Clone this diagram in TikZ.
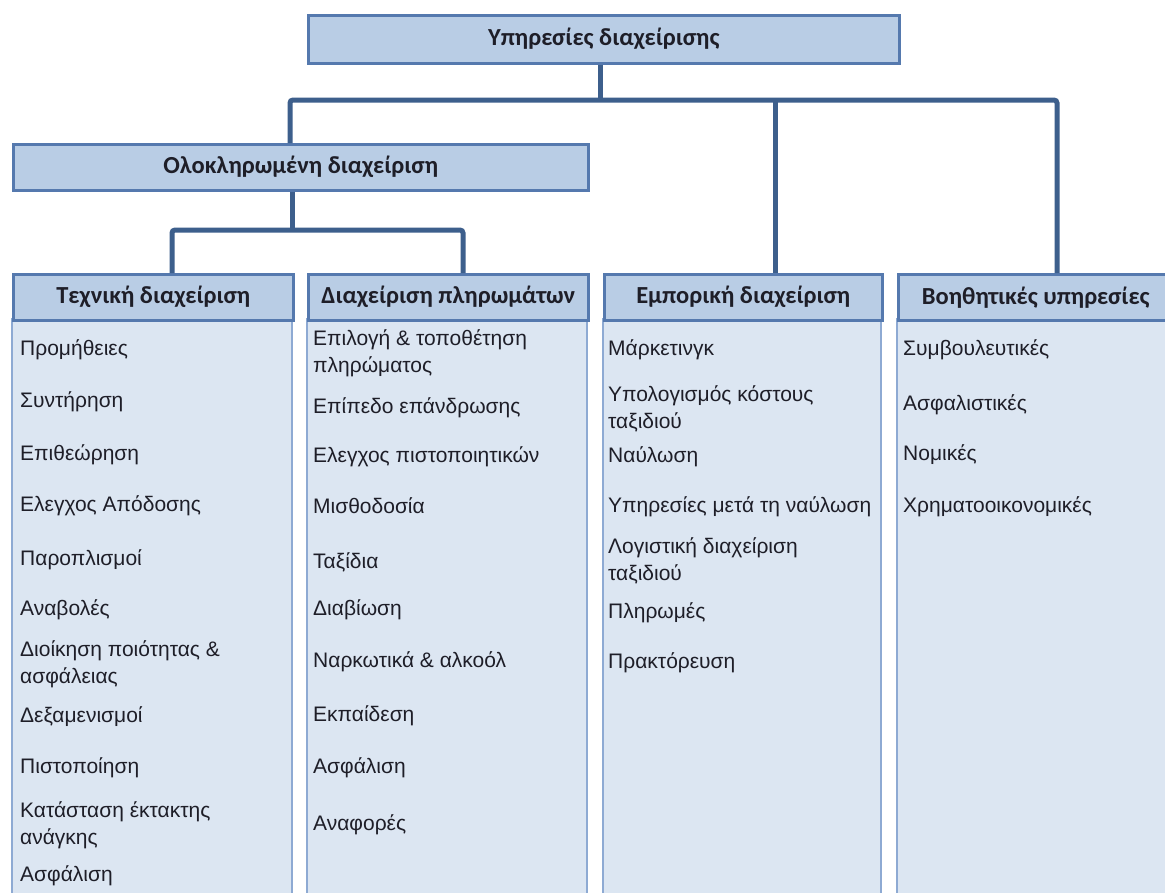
\documentclass[tikz,border=0pt]{standalone}
\usepackage{fontspec}
\setmainfont{Liberation Sans}
\newfontfamily\hfont{Carlito}
\definecolor{connc}{HTML}{3D5F8C}
\definecolor{hdrline}{HTML}{5579AE}
\definecolor{hdrfill}{HTML}{B9CDE5}
\definecolor{bodyline}{HTML}{8EAAD3}
\definecolor{bodyfill}{HTML}{DCE6F2}
\definecolor{txt}{HTML}{1E1E28}
\begin{document}
\begin{tikzpicture}[x=1pt,y=-1pt,
 conn/.style={draw=connc, line width=5pt, rounded corners=3pt},
 hbox/.style={draw=hdrline, fill=hdrfill, line width=2.5pt, anchor=north west, inner sep=0pt, text=txt, font=\hfont\bfseries\fontsize{24.5}{28}\selectfont},
 body/.style={draw=bodyline, fill=bodyfill, line width=1.5pt},
 item/.style={anchor=west, inner sep=0pt, align=left, text=txt, font=\fontsize{21}{27}\selectfont}]
\useasboundingbox (0,0) rectangle (1165,892);
\fill[white] (0,0) rectangle (1165,892);
% bodies
\draw[body] (12,319) rectangle (292,900);
\draw[body] (307,319) rectangle (587,900);
\draw[body] (603,319) rectangle (881,900);
\draw[body] (897,319) rectangle (1170,900);
% boxes
\node[hbox, minimum width=591pt, minimum height=48pt] (top) at (307,14) {Υπηρεσίες διαχείρισης};
\node[hbox, minimum width=575pt, minimum height=46pt] (olok) at (12,143) {Ολοκληρωμένη διαχείριση};
\node[hbox, minimum width=280pt, minimum height=46pt] (tech) at (12,273) {Τεχνική διαχείριση};
\node[hbox, minimum width=280pt, minimum height=46pt] (crew) at (307,273) {Διαχείριση πληρωμάτων};
\node[hbox, minimum width=278pt, minimum height=46pt] (comm) at (603,273) {Εμπορική διαχείριση};
\node[hbox, minimum width=275pt, minimum height=46pt] (aux) at (897,273) {Βοηθητικές υπηρεσίες};
% connector coordinates
\coordinate (v0) at (600,100);
\coordinate (v1) at (290,100);
\coordinate (v3) at (775,100);
\coordinate (v4) at (1057,100);
\coordinate (o1) at (292,230);
\coordinate (t1) at (172,230);
\coordinate (t2) at (463,230);
% connectors
\draw[conn] (top.south -| v0) -- (v0);
\draw[conn] (olok.north -| v1) -- (v1) -- (v4) -- (aux.north -| v4);
\draw[conn] (v3) -- (comm.north -| v3);
\draw[conn] (olok.south -| o1) -- (o1);
\draw[conn] (tech.north -| t1) -- (t1) -- (t2) -- (crew.north -| t2);
% column 1
\node[item] (a1) at (20,350) {Προμήθειες};
\node[item] (a2) at (20,402) {Συντήρηση};
\node[item] (a3) at (20,455) {Επιθεώρηση};
\node[item] (a4) at (20,506) {Ελεγχος Απόδοσης};
\node[item] (a5) at (20,560) {Παροπλισμοί};
\node[item] (a6) at (20,610) {Αναβολές};
\node[item] (a7) at (20,664) {Διοίκηση ποιότητας \&\\ασφάλειας};
\node[item] (a8) at (20,717) {Δεξαμενισμοί};
\node[item] (a9) at (20,768) {Πιστοποίηση};
\node[item] (a10) at (20,825) {Κατάσταση έκτακτης\\ανάγκης};
\node[item] (a11) at (20,876) {Ασφάλιση};
% column 2
\node[item] (b1) at (313,353) {Επιλογή \& τοποθέτηση\\πληρώματος};
\node[item] (b2) at (313,408) {Επίπεδο επάνδρωσης};
\node[item] (b3) at (313,457) {Ελεγχος πιστοποιητικών};
\node[item] (b4) at (313,506) {Μισθοδοσία};
\node[item] (b5) at (313,562) {Ταξίδια};
\node[item] (b6) at (313,610) {Διαβίωση};
\node[item] (b7) at (313,662) {Ναρκωτικά \& αλκοόλ};
\node[item] (b8) at (313,716) {Εκπαίδεση};
\node[item] (b9) at (313,768) {Ασφάλιση};
\node[item] (b10) at (313,825) {Αναφορές};
% column 3
\node[item] (c1) at (608,350) {Μάρκετινγκ};
\node[item] (c2) at (608,409) {Υπολογισμός κόστους\\ταξιδιού};
\node[item] (c3) at (608,457) {Ναύλωση};
\node[item] (c4) at (608,507) {Υπηρεσίες μετά τη ναύλωση};
\node[item] (c5) at (608,561) {Λογιστική διαχείριση\\ταξιδιού};
\node[item] (c6) at (608,613) {Πληρωμές};
\node[item] (c7) at (608,663) {Πρακτόρευση};
% column 4
\node[item] (d1) at (903,350) {Συμβουλευτικές};
\node[item] (d2) at (903,405) {Ασφαλιστικές};
\node[item] (d3) at (903,455) {Νομικές};
\node[item] (d4) at (903,507) {Χρηματοοικονομικές};
\end{tikzpicture}
\end{document}
